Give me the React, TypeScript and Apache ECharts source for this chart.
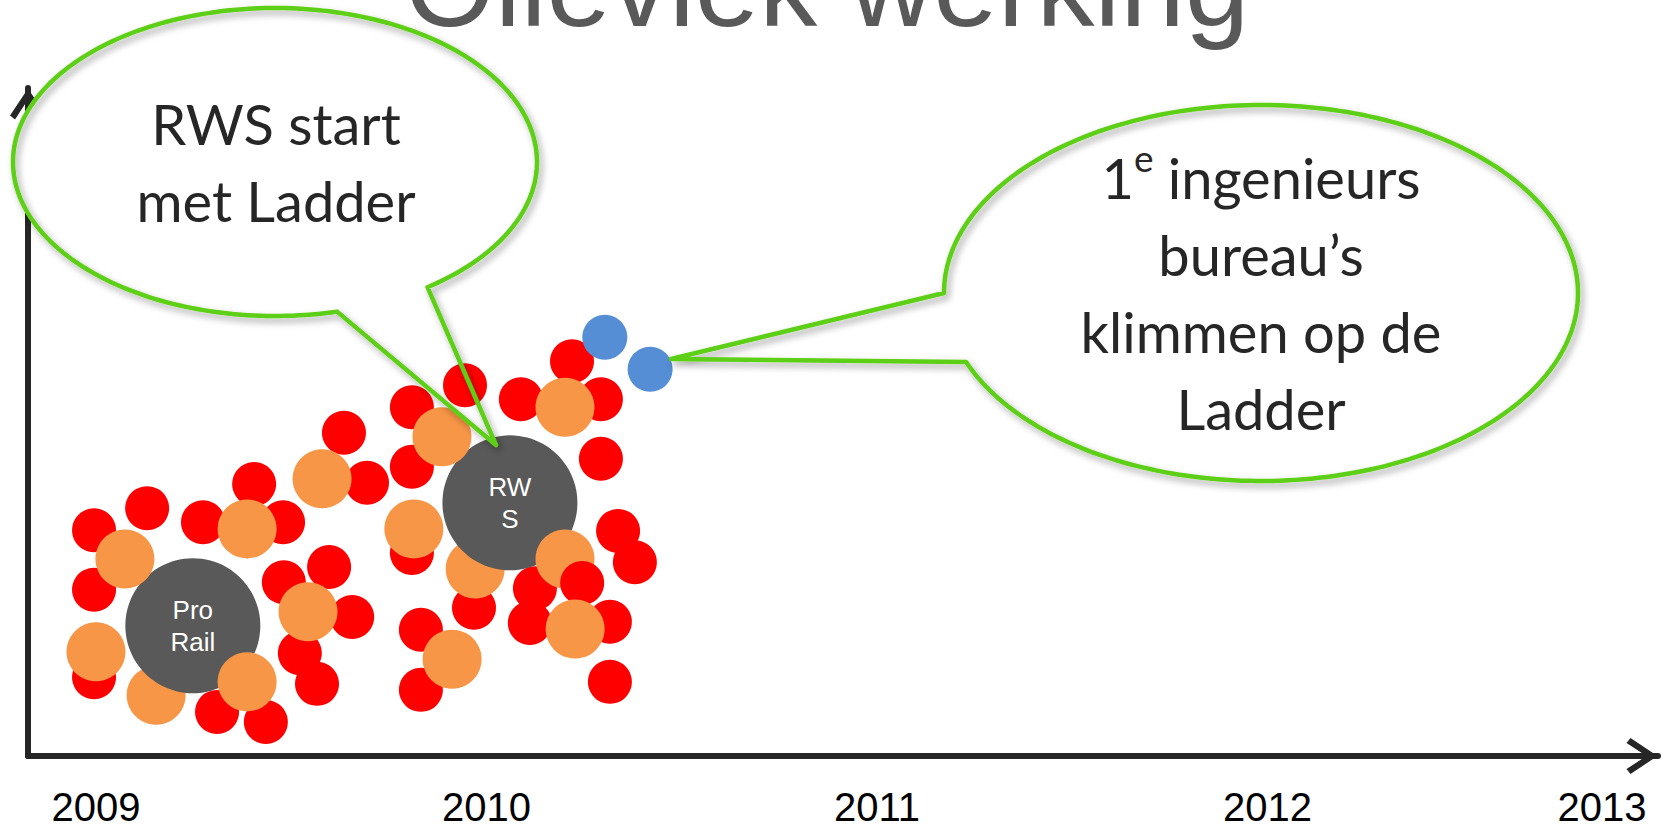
import React, { useEffect, useRef } from "react";
import * as echarts from "echarts";

// ---- axis / ticks ----
const yearTicks = [2009, 2010, 2011, 2012, 2013];
const xMin = 2008.8259;
const xMax = 2013;
const yMin = 0;
const yMax = 100;

// ---- bubbles: [year, level] ----
const redPoints: [number, number][] = [
  [2008.995, 33.8], [2009.131, 37.1], [2009.274, 35.0], [2009.405, 40.7],
  [2009.479, 35.0], [2008.995, 24.9], [2008.995, 11.8], [2009.31, 6.6],
  [2009.435, 5.1], [2009.522, 15.4], [2009.566, 10.8], [2009.481, 26.0],
  [2009.597, 28.3], [2009.656, 20.8], [2009.635, 48.4], [2009.694, 40.9],
  [2009.809, 52.2], [2009.809, 43.3], [2009.945, 55.5], [2009.809, 30.4],
  [2009.832, 18.9], [2009.832, 9.9], [2009.968, 22.2], [2010.111, 19.9],
  [2010.124, 25.1], [2010.316, 20.1], [2010.316, 11.1], [2010.337, 33.7],
  [2010.38, 29.0], [2010.293, 44.5], [2010.293, 53.4], [2010.219, 59.1],
  [2010.088, 53.4],
];
const redFrontPoints: [number, number][] = [[2010.245, 25.9]];
const orangeBackPoints: [number, number][] = [[2009.154, 9.1], [2009.971, 28.0]];
const orangePoints: [number, number][] = [
  [2009.074, 29.5], [2009.0, 15.6], [2009.387, 11.1], [2009.387, 34.0],
  [2009.543, 21.6], [2009.579, 41.5], [2009.886, 47.8], [2009.814, 34.0],
  [2009.912, 14.5], [2010.201, 29.5], [2010.201, 52.2],
];
const orangeTopPoints: [number, number][] = [[2010.227, 19.0]];
const bluePoints: [number, number][] = [[2010.303, 62.7], [2010.419, 57.9]];
const grayNames = ["Pro\nRail", "RW\nS"];
const grayPoints: [number, number][] = [[2009.248, 19.5], [2010.06, 37.9]];

// ---- texts ----
const titleText = "Olievlek werking";
const callout1Lines = ["RWS start", "met Ladder"];
const callout2Lines = ["1{sup|e} ingenieurs", "bureau\u2019s", "klimmen op de", "Ladder"];

const GREEN = "#5ccf14";
const TEXT_DARK = "#262626";

function calloutPoints(
  cx: number, cy: number, rx: number, ry: number,
  baseA: number[], baseB: number[], tip: number[]
) {
  const a = Math.atan2((baseA[1] - cy) / ry, (baseA[0] - cx) / rx);
  const b = Math.atan2((baseB[1] - cy) / ry, (baseB[0] - cx) / rx);
  let d = b - a;
  while (d > Math.PI) d -= 2 * Math.PI;
  while (d <= -Math.PI) d += 2 * Math.PI;
  const total = 2 * Math.PI - Math.abs(d);
  const dir = d > 0 ? -1 : 1;
  const n = 240;
  const pts: number[][] = [];
  for (let i = 0; i <= n; i++) {
    const t = a + (dir * total * i) / n;
    pts.push([cx + rx * Math.cos(t), cy + ry * Math.sin(t)]);
  }
  pts.push(tip);
  return pts;
}

function callout(
  cx: number, cy: number, rx: number, ry: number,
  baseA: number[], baseB: number[], tip: number[]
) {
  return [
    {
      type: "ellipse",
      silent: true,
      z: 100,
      shape: { cx, cy, rx, ry },
      style: { fill: "#ffffff" },
    },
    {
      type: "polygon",
      silent: true,
      z: 101,
      shape: { points: calloutPoints(cx, cy, rx, ry, baseA, baseB, tip) },
      style: {
        fill: "none",
        stroke: GREEN,
        lineWidth: 4.5,
        lineJoin: "round",
        shadowBlur: 7,
        shadowOffsetX: 3,
        shadowOffsetY: 4,
        shadowColor: "rgba(0,0,0,0.35)",
      },
    },
  ];
}

const bubble = (
  name: string, data: any[], color: string, size: number, z: number, extra: any = {}
) => ({
  type: "scatter",
  name,
  data,
  symbol: "circle",
  symbolSize: size,
  itemStyle: { color, opacity: 1 },
  z,
  silent: true,
  ...extra,
});

export default function App() {
  const ref = useRef<HTMLDivElement>(null);

  useEffect(() => {
    if (!ref.current) return;
    const chart = echarts.init(ref.current, undefined, { renderer: "svg" });
    const lastYear = yearTicks[yearTicks.length - 1];
    const arrowPath = "path://M18 0 L36 27 L31 31 L18 11 L5 31 L0 27 Z";
    const axisLine = {
      show: true,
      onZero: false,
      symbol: ["none", arrowPath],
      symbolSize: [36, 32],
      symbolOffset: [0, -16],
      lineStyle: { color: "#262626", width: 6 },
    };

    const option: any = {
      animation: false,
      backgroundColor: "#ffffff",
      grid: { left: 28, right: 7, top: 88, bottom: 74, containLabel: false },
      xAxis: {
        type: "value",
        min: xMin,
        max: xMax,
        axisLine,
        axisTick: { show: false },
        splitLine: { show: false },
        axisLabel: {
          customValues: yearTicks,
          showMinLabel: true,
          showMaxLabel: true,
          margin: 31,
          fontSize: 40,
          fontFamily: "Liberation Sans, Arial, sans-serif",
          color: "#000000",
          formatter: (v: number) => (v === lastYear ? `{last|${v}}` : `${v}`),
          rich: {
            last: {
              padding: [0, 112, 0, 0],
              fontSize: 40,
              fontFamily: "Liberation Sans, Arial, sans-serif",
              color: "#000000",
            },
          },
        },
      },
      yAxis: {
        type: "value",
        min: yMin,
        max: yMax,
        axisLine,
        axisTick: { show: false },
        axisLabel: { show: false },
        splitLine: { show: false },
      },
      series: [
        bubble("red", redPoints, "#ff0000", 44, 2),
        bubble("orangeBack", orangeBackPoints, "#f79646", 59, 3),
        bubble(
          "gray",
          grayPoints.map((p, i) => ({ name: grayNames[i], value: p })),
          "#595959",
          135,
          4,
          {
            label: {
              show: true,
              position: "inside",
              formatter: "{b}",
              color: "#ffffff",
              fontSize: 26,
              lineHeight: 32,
              fontFamily: "Liberation Sans, Arial, sans-serif",
            },
          }
        ),
        bubble("orange", orangePoints, "#f79646", 59, 5),
        bubble("redFront", redFrontPoints, "#ff0000", 44, 6),
        bubble("orangeTop", orangeTopPoints, "#f79646", 59, 7),
        bubble("blue", bluePoints, "#558ed5", 45, 8),
      ],
      graphic: [
        {
          type: "text",
          silent: true,
          z: 50,
          x: 827,
          y: -14,
          style: {
            text: titleText,
            fontSize: 116,
            fontFamily: "Liberation Sans, Arial, sans-serif",
            fill: "#595959",
            align: "center",
            verticalAlign: "middle",
          },
        },
        ...callout(275, 162, 262, 154, [426, 286], [336, 309], [496, 445]),
        {
          type: "text",
          silent: true,
          z: 102,
          x: 276,
          y: 161.5,
          style: {
            text: callout1Lines.join("\n"),
            fontSize: 56,
            lineHeight: 77,
            fontFamily: "Lato, Open Sans, sans-serif",
            fill: TEXT_DARK,
            align: "center",
            verticalAlign: "middle",
          },
        },
        ...callout(1261, 293, 317, 188, [944, 293], [966, 362], [671, 359]),
        {
          type: "text",
          silent: true,
          z: 102,
          x: 1261,
          y: 293,
          style: {
            text: callout2Lines.join("\n"),
            fontSize: 56,
            lineHeight: 77,
            fontFamily: "Lato, Open Sans, sans-serif",
            fill: TEXT_DARK,
            align: "center",
            verticalAlign: "middle",
            rich: {
              sup: {
                fontSize: 37,
                lineHeight: 56,
                verticalAlign: "top",
                fontFamily: "Lato, Open Sans, sans-serif",
                fill: TEXT_DARK,
              },
            },
          },
        },
      ],
    };
    chart.setOption(option);
    return () => chart.dispose();
  }, []);

  return (
    <div
      ref={ref}
      style={{ position: "fixed", left: 0, top: 0, width: 1665, height: 830, background: "#fff" }}
    />
  );
}
